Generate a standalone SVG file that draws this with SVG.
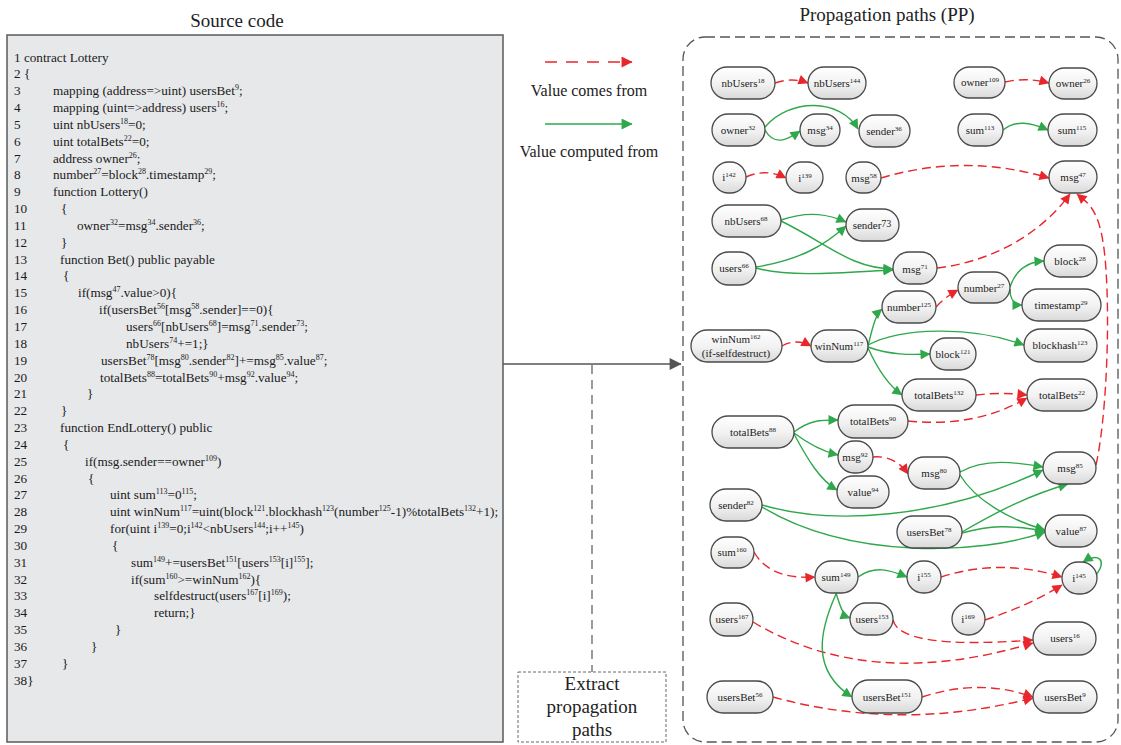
<svg xmlns="http://www.w3.org/2000/svg" width="1121" height="745" viewBox="0 0 1121 745">
<style>
.t{font-family:"Liberation Serif","Times New Roman",serif;fill:#222}
.c{font-family:"Liberation Serif","Times New Roman",serif;font-size:13.2px;fill:#1a1a1a}
.s{font-size:8px}
.ns{font-size:7px}
.nd rect{fill:url(#ng);stroke:#4a4a4a;stroke-width:1.3}
.nd text{font-family:"Liberation Serif","Times New Roman",serif;font-size:11px;fill:#222;text-anchor:middle}
.r{fill:none;stroke:#e8262b;stroke-width:1.4;stroke-dasharray:9 5;marker-end:url(#ar)}
.g{fill:none;stroke:#2ea84b;stroke-width:1.4;marker-end:url(#ag)}
</style>
<defs>
<linearGradient id="ng" x1="0" y1="0" x2="0" y2="1">
<stop offset="0" stop-color="#ffffff"/><stop offset="0.55" stop-color="#f1f1f1"/><stop offset="1" stop-color="#d9d9d9"/>
</linearGradient>
<marker id="ar" viewBox="0 0 10 10" refX="9.5" refY="5" markerWidth="11" markerHeight="10" markerUnits="userSpaceOnUse" orient="auto"><path d="M0,0 L10,5 L0,10 z" fill="#e8262b"/></marker>
<marker id="ag" viewBox="0 0 10 10" refX="9.5" refY="5" markerWidth="11" markerHeight="10" markerUnits="userSpaceOnUse" orient="auto"><path d="M0,0 L10,5 L0,10 z" fill="#2ea84b"/></marker>
<marker id="ar2" viewBox="0 0 10 10" refX="9.5" refY="5" markerWidth="13" markerHeight="11" markerUnits="userSpaceOnUse" orient="auto"><path d="M0,0 L10,5 L0,10 z" fill="#e8262b"/></marker>
<marker id="ag2" viewBox="0 0 10 10" refX="9.5" refY="5" markerWidth="13" markerHeight="11" markerUnits="userSpaceOnUse" orient="auto"><path d="M0,0 L10,5 L0,10 z" fill="#2ea84b"/></marker>
<marker id="ak" viewBox="0 0 10 10" refX="9.5" refY="5" markerWidth="14" markerHeight="12" markerUnits="userSpaceOnUse" orient="auto"><path d="M0,0 L10,5 L0,10 z" fill="#555"/></marker>
</defs>
<rect width="1121" height="745" fill="#fff"/>

<!-- titles -->
<text class="t" x="237" y="27" font-size="19" text-anchor="middle">Source code</text>
<text class="t" x="887" y="21" font-size="19" text-anchor="middle">Propagation paths (PP)</text>

<!-- source code panel -->
<g id="code">
<rect x="7" y="35" width="496" height="707" fill="#e7e8ea" stroke="#5a5a5a" stroke-width="1.5"/>
<text class="c" x="14" y="61.5">1 contract Lottery</text>
<text class="c" x="14" y="78.3">2 {</text>
<text class="c" x="14" y="95.2">3</text><text class="c" x="53" y="95.2">mapping (address=&gt;uint) usersBet<tspan class="s" dy="-5">9</tspan><tspan dy="5">;</tspan></text>
<text class="c" x="14" y="112">4</text><text class="c" x="53" y="112">mapping (uint=&gt;address) users<tspan class="s" dy="-5">16</tspan><tspan dy="5">;</tspan></text>
<text class="c" x="14" y="128.9">5</text><text class="c" x="53" y="128.9">uint nbUsers<tspan class="s" dy="-5">18</tspan><tspan dy="5">=0;</tspan></text>
<text class="c" x="14" y="145.7">6</text><text class="c" x="53" y="145.7">uint totalBets<tspan class="s" dy="-5">22</tspan><tspan dy="5">=0;</tspan></text>
<text class="c" x="14" y="162.5">7</text><text class="c" x="53" y="162.5">address owner<tspan class="s" dy="-5">26</tspan><tspan dy="5">;</tspan></text>
<text class="c" x="14" y="179.4">8</text><text class="c" x="53" y="179.4">number<tspan class="s" dy="-5">27</tspan><tspan dy="5">=block</tspan><tspan class="s" dy="-5">28</tspan><tspan dy="5">.timestamp</tspan><tspan class="s" dy="-5">29</tspan><tspan dy="5">;</tspan></text>
<text class="c" x="14" y="196.2">9</text><text class="c" x="53" y="196.2">function Lottery()</text>
<text class="c" x="14" y="213.1">10</text><text class="c" x="61" y="213.1">{</text>
<text class="c" x="14" y="229.9">11</text><text class="c" x="77" y="229.9">owner<tspan class="s" dy="-5">32</tspan><tspan dy="5">=msg</tspan><tspan class="s" dy="-5">34</tspan><tspan dy="5">.sender</tspan><tspan class="s" dy="-5">36</tspan><tspan dy="5">;</tspan></text>
<text class="c" x="14" y="246.7">12</text><text class="c" x="61" y="246.7">}</text>
<text class="c" x="14" y="263.6">13</text><text class="c" x="60" y="263.6">function Bet() public payable</text>
<text class="c" x="14" y="280.4">14</text><text class="c" x="63" y="280.4">{</text>
<text class="c" x="14" y="297.3">15</text><text class="c" x="78" y="297.3">if(msg<tspan class="s" dy="-5">47</tspan><tspan dy="5">.value&gt;0){</tspan></text>
<text class="c" x="14" y="314.1">16</text><text class="c" x="99" y="314.1">if(usersBet<tspan class="s" dy="-5">56</tspan><tspan dy="5">[msg</tspan><tspan class="s" dy="-5">58</tspan><tspan dy="5">.sender]==0){</tspan></text>
<text class="c" x="14" y="330.9">17</text><text class="c" x="126" y="330.9">users<tspan class="s" dy="-5">66</tspan><tspan dy="5">[nbUsers</tspan><tspan class="s" dy="-5">68</tspan><tspan dy="5">]=msg</tspan><tspan class="s" dy="-5">71</tspan><tspan dy="5">.sender</tspan><tspan class="s" dy="-5">73</tspan><tspan dy="5">;</tspan></text>
<text class="c" x="14" y="347.8">18</text><text class="c" x="126" y="347.8">nbUsers<tspan class="s" dy="-5">74</tspan><tspan dy="5">+=1;}</tspan></text>
<text class="c" x="14" y="364.6">19</text><text class="c" x="101" y="364.6">usersBet<tspan class="s" dy="-5">78</tspan><tspan dy="5">[msg</tspan><tspan class="s" dy="-5">80</tspan><tspan dy="5">.sender</tspan><tspan class="s" dy="-5">82</tspan><tspan dy="5">]+=msg</tspan><tspan class="s" dy="-5">85</tspan><tspan dy="5">.value</tspan><tspan class="s" dy="-5">87</tspan><tspan dy="5">;</tspan></text>
<text class="c" x="14" y="381.5">20</text><text class="c" x="100" y="381.5">totalBets<tspan class="s" dy="-5">88</tspan><tspan dy="5">=totalBets</tspan><tspan class="s" dy="-5">90</tspan><tspan dy="5">+msg</tspan><tspan class="s" dy="-5">92</tspan><tspan dy="5">.value</tspan><tspan class="s" dy="-5">94</tspan><tspan dy="5">;</tspan></text>
<text class="c" x="14" y="398.3">21</text><text class="c" x="87" y="398.3">}</text>
<text class="c" x="14" y="415.1">22</text><text class="c" x="61" y="415.1">}</text>
<text class="c" x="14" y="432">23</text><text class="c" x="60" y="432">function EndLottery() public</text>
<text class="c" x="14" y="448.8">24</text><text class="c" x="63" y="448.8">{</text>
<text class="c" x="14" y="465.7">25</text><text class="c" x="85" y="465.7">if(msg.sender==owner<tspan class="s" dy="-5">109</tspan><tspan dy="5">)</tspan></text>
<text class="c" x="14" y="482.5">26</text><text class="c" x="88" y="482.5">{</text>
<text class="c" x="14" y="499.3">27</text><text class="c" x="110" y="499.3">uint sum<tspan class="s" dy="-5">113</tspan><tspan dy="5">=0</tspan><tspan class="s" dy="-5">115</tspan><tspan dy="5">;</tspan></text>
<text class="c" x="14" y="516.2">28</text><text class="c" x="110" y="516.2">uint winNum<tspan class="s" dy="-5">117</tspan><tspan dy="5">=uint(block</tspan><tspan class="s" dy="-5">121</tspan><tspan dy="5">.blockhash</tspan><tspan class="s" dy="-5">123</tspan><tspan dy="5">(number</tspan><tspan class="s" dy="-5">125</tspan><tspan dy="5">-1)%totalBets</tspan><tspan class="s" dy="-5">132</tspan><tspan dy="5">+1);</tspan></text>
<text class="c" x="14" y="533">29</text><text class="c" x="110" y="533">for(uint i<tspan class="s" dy="-5">139</tspan><tspan dy="5">=0;i</tspan><tspan class="s" dy="-5">142</tspan><tspan dy="5">&lt;nbUsers</tspan><tspan class="s" dy="-5">144</tspan><tspan dy="5">;i++</tspan><tspan class="s" dy="-5">145</tspan><tspan dy="5">)</tspan></text>
<text class="c" x="14" y="549.9">30</text><text class="c" x="112" y="549.9">{</text>
<text class="c" x="14" y="566.7">31</text><text class="c" x="131" y="566.7">sum<tspan class="s" dy="-5">149</tspan><tspan dy="5">+=usersBet</tspan><tspan class="s" dy="-5">151</tspan><tspan dy="5">[users</tspan><tspan class="s" dy="-5">153</tspan><tspan dy="5">[i]</tspan><tspan class="s" dy="-5">155</tspan><tspan dy="5">];</tspan></text>
<text class="c" x="14" y="583.5">32</text><text class="c" x="131" y="583.5">if(sum<tspan class="s" dy="-5">160</tspan><tspan dy="5">&gt;=winNum</tspan><tspan class="s" dy="-5">162</tspan><tspan dy="5">){</tspan></text>
<text class="c" x="14" y="600.4">33</text><text class="c" x="154" y="600.4">selfdestruct(users<tspan class="s" dy="-5">167</tspan><tspan dy="5">[i]</tspan><tspan class="s" dy="-5">169</tspan><tspan dy="5">);</tspan></text>
<text class="c" x="14" y="617.2">34</text><text class="c" x="154" y="617.2">return;}</text>
<text class="c" x="14" y="634.1">35</text><text class="c" x="115" y="634.1">}</text>
<text class="c" x="14" y="650.9">36</text><text class="c" x="91" y="650.9">}</text>
<text class="c" x="14" y="667.7">37</text><text class="c" x="62" y="667.7">}</text>
<text class="c" x="14" y="684.6">38}</text>
</g>

<!-- legend -->
<g id="legend">
<line x1="545" y1="62" x2="632" y2="62" stroke="#e8262b" stroke-width="1.5" stroke-dasharray="12 9" marker-end="url(#ar2)"/>
<text class="t" x="589" y="96" font-size="16" text-anchor="middle">Value comes from</text>
<line x1="545" y1="124" x2="632" y2="124" stroke="#2ea84b" stroke-width="1.5" marker-end="url(#ag2)"/>
<text class="t" x="589" y="157" font-size="16" text-anchor="middle">Value computed from</text>
</g>

<!-- extract step -->
<g id="extract">
<line x1="503" y1="364" x2="681" y2="364" stroke="#555" stroke-width="1.5" marker-end="url(#ak)"/>
<line x1="592" y1="365" x2="592" y2="672" stroke="#666" stroke-width="1.3" stroke-dasharray="9 6"/>
<rect x="518" y="672" width="148" height="70" fill="#fff" stroke="#666" stroke-width="1" stroke-dasharray="3 2"/>
<text class="t" x="592" y="690" font-size="19" text-anchor="middle">Extract</text>
<text class="t" x="592" y="713" font-size="19" text-anchor="middle">propagation</text>
<text class="t" x="592" y="736" font-size="19" text-anchor="middle">paths</text>
</g>

<!-- PP panel -->
<rect id="pp-panel" x="683" y="37" width="435" height="705" rx="22" fill="none" stroke="#555" stroke-width="1.3" stroke-dasharray="10 5"/>

<!-- connectors -->
<g id="connectors">
<path class="r" d="M775,83 Q792,77 808,83"/>
<path class="r" d="M1005,82 Q1027,77 1049,83"/>
<path class="r" d="M746,177 Q766,168 786,178"/>
<path class="r" d="M881,178 Q965,153 1049,178"/>
<path class="r" d="M937,268 C990,262 1040,235 1070,194"/>
<path class="r" d="M1096,465 C1106,420 1110,330 1106,270 S1090,205 1077,194"/>
<path class="r" d="M936,307 Q945,297 958,290"/>
<path class="r" d="M782,346 Q796,338 811,346"/>
<path class="r" d="M976,395 Q1000,392 1027,395"/>
<path class="r" d="M908,421 Q975,428 1027,398"/>
<path class="r" d="M873,457 Q895,455 908,474"/>
<path class="r" d="M754,552 Q770,580 815,577"/>
<path class="r" d="M941,577 Q1000,558 1062,577"/>
<path class="r" d="M985,620 Q1030,605 1062,585"/>
<path class="r" d="M893,620 Q900,650 1033,640"/>
<path class="r" d="M753,622 Q870,692 1033,643"/>
<path class="r" d="M922,697 Q980,678 1033,697"/>
<path class="r" d="M773,697 Q900,732 1033,698"/>

<path class="g" d="M765,130 C775,148 790,138 800,131"/>
<path class="g" d="M765,127 C790,98 840,98 858,129"/>
<path class="g" d="M1003,130 C1015,120 1030,122 1048,130"/>
<path class="g" d="M781,220 C810,210 830,215 846,222"/>
<path class="g" d="M781,221 C830,245 850,268 893,269"/>
<path class="g" d="M756,267 C800,260 825,245 846,226"/>
<path class="g" d="M756,268 C790,278 850,272 893,270"/>
<path class="g" d="M1010,287 C1015,272 1025,262 1044,261"/>
<path class="g" d="M1010,289 C1010,300 1015,305 1022,305"/>
<path class="g" d="M868,346 C872,330 875,315 882,309"/>
<path class="g" d="M868,345 C900,328 970,325 1024,345"/>
<path class="g" d="M868,347 C890,355 910,355 930,354"/>
<path class="g" d="M868,348 C878,370 888,385 902,395"/>
<path class="g" d="M794,432 C810,420 820,420 838,420"/>
<path class="g" d="M794,433 C810,445 825,452 838,455"/>
<path class="g" d="M794,434 C808,460 820,480 837,490"/>
<path class="g" d="M960,472 C985,458 1015,462 1043,467"/>
<path class="g" d="M960,475 C975,500 1010,520 1045,530"/>
<path class="g" d="M762,505 C830,525 940,520 1043,470"/>
<path class="g" d="M762,507 C850,560 980,555 1045,532"/>
<path class="g" d="M962,532 C1000,510 1030,495 1068,484"/>
<path class="g" d="M962,533 C990,525 1010,525 1045,531"/>
<path class="g" d="M858,577 C875,565 890,570 907,577"/>
<path class="g" d="M836,593 C840,605 842,615 850,618"/>
<path class="g" d="M836,594 C820,630 810,670 852,697"/>
<path class="g" d="M1096,575 C1108,560 1098,552 1083,562"/>
</g>

<!-- nodes -->
<g id="nodes">
<g id="n-nbUsers18" class="nd"><rect x="711" y="67" width="64" height="32" rx="16"/><text x="743" y="87">nbUsers<tspan class="ns" dy="-4">18</tspan></text></g>
<g id="n-nbUsers144" class="nd"><rect x="808" y="67" width="58" height="32" rx="16"/><text x="837" y="87">nbUsers<tspan class="ns" dy="-4">144</tspan></text></g>
<g id="n-owner109" class="nd"><rect x="954" y="67" width="51" height="31" rx="15.5"/><text x="980" y="86">owner<tspan class="ns" dy="-4">109</tspan></text></g>
<g id="n-owner26" class="nd"><rect x="1049" y="68" width="48" height="31" rx="15.5"/><text x="1073" y="87">owner<tspan class="ns" dy="-4">26</tspan></text></g>
<g id="n-owner32" class="nd"><rect x="712" y="114" width="53" height="32" rx="16"/><text x="738" y="134">owner<tspan class="ns" dy="-4">32</tspan></text></g>
<g id="n-msg34" class="nd"><rect x="800" y="114" width="40" height="32" rx="16"/><text x="820" y="134">msg<tspan class="ns" dy="-4">34</tspan></text></g>
<g id="n-sender36" class="nd"><rect x="859" y="115" width="51" height="32" rx="16"/><text x="884" y="135">sender<tspan class="ns" dy="-4">36</tspan></text></g>
<g id="n-sum113" class="nd"><rect x="958" y="114" width="45" height="32" rx="16"/><text x="980" y="134">sum<tspan class="ns" dy="-4">113</tspan></text></g>
<g id="n-sum115" class="nd"><rect x="1048" y="114" width="49" height="32" rx="16"/><text x="1072" y="134">sum<tspan class="ns" dy="-4">115</tspan></text></g>
<g id="n-i142" class="nd"><rect x="713" y="162" width="33" height="31" rx="15.5"/><text x="729" y="181">i<tspan class="ns" dy="-4">142</tspan></text></g>
<g id="n-i139" class="nd"><rect x="786" y="162" width="37" height="31" rx="15.5"/><text x="805" y="182">i<tspan class="ns" dy="-4">139</tspan></text></g>
<g id="n-msg58" class="nd"><rect x="846" y="162" width="35" height="31" rx="15.5"/><text x="864" y="182">msg<tspan class="ns" dy="-4">58</tspan></text></g>
<g id="n-msg47" class="nd"><rect x="1049" y="161" width="48" height="32" rx="16"/><text x="1073" y="181">msg<tspan class="ns" dy="-4">47</tspan></text></g>
<g id="n-nbUsers68" class="nd"><rect x="712" y="205" width="69" height="32" rx="16"/><text x="746" y="225">nbUsers<tspan class="ns" dy="-4">68</tspan></text></g>
<g id="n-sender73" class="nd"><rect x="846" y="209" width="53" height="32" rx="16"/><text x="872" y="229">sender<tspan font-size="10" dy="-2">73</tspan></text></g>
<g id="n-users66" class="nd"><rect x="712" y="252" width="44" height="33" rx="16.5"/><text x="734" y="272">users<tspan class="ns" dy="-4">66</tspan></text></g>
<g id="n-msg71" class="nd"><rect x="893" y="252" width="44" height="32" rx="16"/><text x="915" y="273">msg<tspan class="ns" dy="-4">71</tspan></text></g>
<g id="n-block28" class="nd"><rect x="1044" y="245" width="53" height="32" rx="16"/><text x="1070" y="265">block<tspan class="ns" dy="-4">28</tspan></text></g>
<g id="n-number27" class="nd"><rect x="958" y="272" width="52" height="31" rx="15.5"/><text x="984" y="292">number<tspan class="ns" dy="-4">27</tspan></text></g>
<g id="n-timestamp29" class="nd"><rect x="1022" y="289" width="79" height="32" rx="16"/><text x="1061" y="309">timestamp<tspan class="ns" dy="-4">29</tspan></text></g>
<g id="n-number125" class="nd"><rect x="882" y="291" width="54" height="32" rx="16"/><text x="909" y="311">number<tspan class="ns" dy="-4">125</tspan></text></g>
<g id="n-winNum162" class="nd"><rect x="691" y="330" width="91" height="32" rx="16"/><text x="736" y="343">winNum<tspan class="ns" dy="-4">162</tspan></text><text x="736" y="357">(if-selfdestruct)</text></g>
<g id="n-winNum117" class="nd"><rect x="811" y="330" width="57" height="32" rx="16"/><text x="839" y="350">winNum<tspan class="ns" dy="-4">117</tspan></text></g>
<g id="n-block121" class="nd"><rect x="930" y="338" width="46" height="32" rx="16"/><text x="953" y="358">block<tspan class="ns" dy="-4">121</tspan></text></g>
<g id="n-blockhash123" class="nd"><rect x="1024" y="329" width="73" height="33" rx="16.5"/><text x="1060" y="349">blockhash<tspan class="ns" dy="-4">123</tspan></text></g>
<g id="n-totalBets132" class="nd"><rect x="902" y="379" width="74" height="32" rx="16"/><text x="939" y="399">totalBets<tspan class="ns" dy="-4">132</tspan></text></g>
<g id="n-totalBets22" class="nd"><rect x="1027" y="379" width="70" height="32" rx="16"/><text x="1062" y="399">totalBets<tspan class="ns" dy="-4">22</tspan></text></g>
<g id="n-totalBets88" class="nd"><rect x="712" y="416" width="82" height="32" rx="16"/><text x="753" y="436">totalBets<tspan class="ns" dy="-4">88</tspan></text></g>
<g id="n-totalBets90" class="nd"><rect x="838" y="405" width="70" height="33" rx="16.5"/><text x="873" y="425">totalBets<tspan class="ns" dy="-4">90</tspan></text></g>
<g id="n-msg92" class="nd"><rect x="838" y="441" width="35" height="32" rx="16"/><text x="855" y="461">msg<tspan class="ns" dy="-4">92</tspan></text></g>
<g id="n-msg80" class="nd"><rect x="908" y="457" width="52" height="32" rx="16"/><text x="934" y="477">msg<tspan class="ns" dy="-4">80</tspan></text></g>
<g id="n-msg85" class="nd"><rect x="1043" y="452" width="53" height="32" rx="16"/><text x="1070" y="472">msg<tspan class="ns" dy="-4">85</tspan></text></g>
<g id="n-value94" class="nd"><rect x="837" y="476" width="52" height="32" rx="16"/><text x="863" y="496">value<tspan class="ns" dy="-4">94</tspan></text></g>
<g id="n-sender82" class="nd"><rect x="710" y="489" width="52" height="32" rx="16"/><text x="736" y="509">sender<tspan class="ns" dy="-4">82</tspan></text></g>
<g id="n-usersBet78" class="nd"><rect x="897" y="516" width="65" height="32" rx="16"/><text x="929" y="536">usersBet<tspan class="ns" dy="-4">78</tspan></text></g>
<g id="n-value87" class="nd"><rect x="1045" y="515" width="52" height="32" rx="16"/><text x="1071" y="535">value<tspan class="ns" dy="-4">87</tspan></text></g>
<g id="n-sum160" class="nd"><rect x="711" y="537" width="43" height="31" rx="15.5"/><text x="732" y="556">sum<tspan class="ns" dy="-4">160</tspan></text></g>
<g id="n-sum149" class="nd"><rect x="815" y="561" width="43" height="32" rx="16"/><text x="836" y="581">sum<tspan class="ns" dy="-4">149</tspan></text></g>
<g id="n-i155" class="nd"><rect x="907" y="561" width="34" height="32" rx="16"/><text x="924" y="581">i<tspan class="ns" dy="-4">155</tspan></text></g>
<g id="n-i145" class="nd"><rect x="1062" y="562" width="35" height="32" rx="16"/><text x="1079" y="582">i<tspan class="ns" dy="-4">145</tspan></text></g>
<g id="n-users167" class="nd"><rect x="710" y="603" width="43" height="33" rx="16.5"/><text x="732" y="623">users<tspan class="ns" dy="-4">167</tspan></text></g>
<g id="n-users153" class="nd"><rect x="850" y="603" width="43" height="32" rx="16"/><text x="872" y="623">users<tspan class="ns" dy="-4">153</tspan></text></g>
<g id="n-i169" class="nd"><rect x="952" y="603" width="33" height="32" rx="16"/><text x="968" y="623">i<tspan class="ns" dy="-4">169</tspan></text></g>
<g id="n-users16" class="nd"><rect x="1033" y="622" width="63" height="33" rx="16.5"/><text x="1065" y="642">users<tspan class="ns" dy="-4">16</tspan></text></g>
<g id="n-usersBet56" class="nd"><rect x="707" y="681" width="66" height="32" rx="16"/><text x="740" y="701">usersBet<tspan class="ns" dy="-4">56</tspan></text></g>
<g id="n-usersBet151" class="nd"><rect x="852" y="680" width="70" height="33" rx="16.5"/><text x="887" y="701">usersBet<tspan class="ns" dy="-4">151</tspan></text></g>
<g id="n-usersBet9" class="nd"><rect x="1033" y="681" width="64" height="32" rx="16"/><text x="1065" y="701">usersBet<tspan class="ns" dy="-4">9</tspan></text></g>
</g>
</svg>
